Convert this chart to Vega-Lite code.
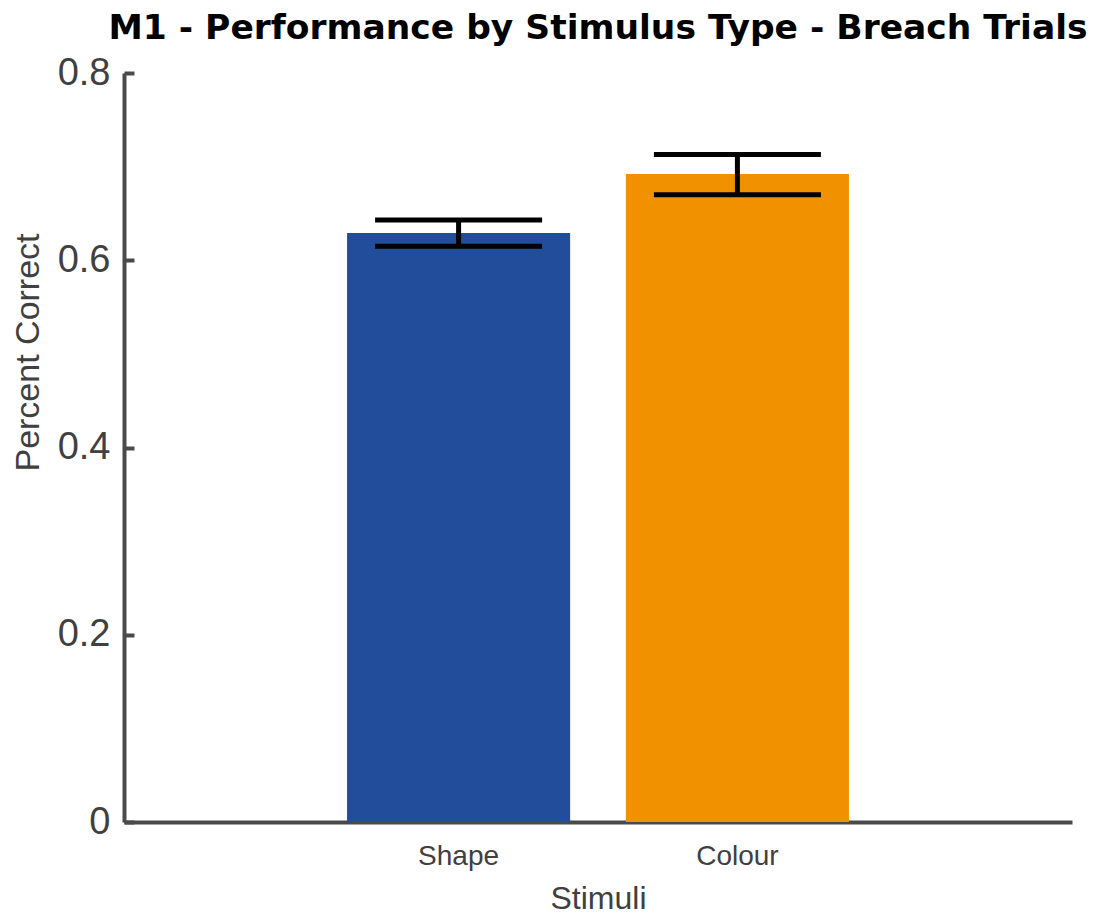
{
  "$schema": "https://vega.github.io/schema/vega-lite/v6.json",
  "width": 948,
  "height": 749,
  "autosize": {"type": "none"},
  "padding": {"left": 124, "top": 73, "right": 23, "bottom": 92},
  "background": "white",
  "title": {
    "text": "M1 - Performance by Stimulus Type - Breach Trials",
    "anchor": "middle",
    "fontSize": 34.5,
    "fontWeight": "bold",
    "font": "DejaVu Sans",
    "color": "#000000",
    "baseline": "alphabetic",
    "offset": -19
  },
  "config": {
    "view": {"stroke": null},
    "font": "Liberation Sans"
  },
  "data": {
    "values": [
      {"stimulus": "Shape", "mean": 0.629, "lower": 0.615, "upper": 0.643},
      {"stimulus": "Colour", "mean": 0.692, "lower": 0.670, "upper": 0.713}
    ]
  },
  "encoding": {
    "x": {
      "field": "stimulus",
      "type": "nominal",
      "sort": ["Shape", "Colour"],
      "scale": {"paddingInner": 0.2, "paddingOuter": 0.8},
      "axis": {
        "title": "Stimuli",
        "titleFontSize": 32,
        "titleFontWeight": "normal",
        "titleColor": "#404040",
        "titlePadding": 13,
        "labelAngle": 0,
        "labelFontSize": 28,
        "labelColor": "#404040",
        "labelPadding": 20,
        "ticks": false,
        "domainWidth": 4,
        "domainColor": "#4a4a4a"
      }
    }
  },
  "layer": [
    {
      "mark": {"type": "bar"},
      "encoding": {
        "y": {
          "field": "mean",
          "type": "quantitative",
          "scale": {"domain": [0, 0.8], "nice": false},
          "axis": {
            "title": "Percent Correct",
            "titleFontSize": 34,
            "titleFontWeight": "normal",
            "titleColor": "#404040",
            "titleAngle": -90,
            "titleAlign": "center",
            "titleBaseline": "middle",
            "titleX": -96,
            "titleY": 279,
            "values": [0, 0.2, 0.4, 0.6, 0.8],
            "labelExpr": "datum.value == 0 ? '0' : format(datum.value, '.1f')",
            "labelFontSize": 38,
            "labelColor": "#404040",
            "labelPadding": 24,
            "tickSize": -10,
            "tickWidth": 4,
            "tickColor": "#4a4a4a",
            "domainWidth": 4,
            "domainColor": "#4a4a4a",
            "grid": false
          }
        },
        "color": {
          "field": "stimulus",
          "type": "nominal",
          "scale": {"domain": ["Shape", "Colour"], "range": ["#214d9b", "#f29100"]},
          "legend": null
        }
      }
    },
    {
      "mark": {"type": "rule", "color": "#000000", "strokeWidth": 5},
      "encoding": {
        "y": {"field": "lower", "type": "quantitative"},
        "y2": {"field": "upper"}
      }
    },
    {
      "mark": {"type": "tick", "color": "#000000", "size": 167, "thickness": 5, "opacity": 1},
      "encoding": {
        "y": {"field": "lower", "type": "quantitative"}
      }
    },
    {
      "mark": {"type": "tick", "color": "#000000", "size": 167, "thickness": 5, "opacity": 1},
      "encoding": {
        "y": {"field": "upper", "type": "quantitative"}
      }
    }
  ]
}
